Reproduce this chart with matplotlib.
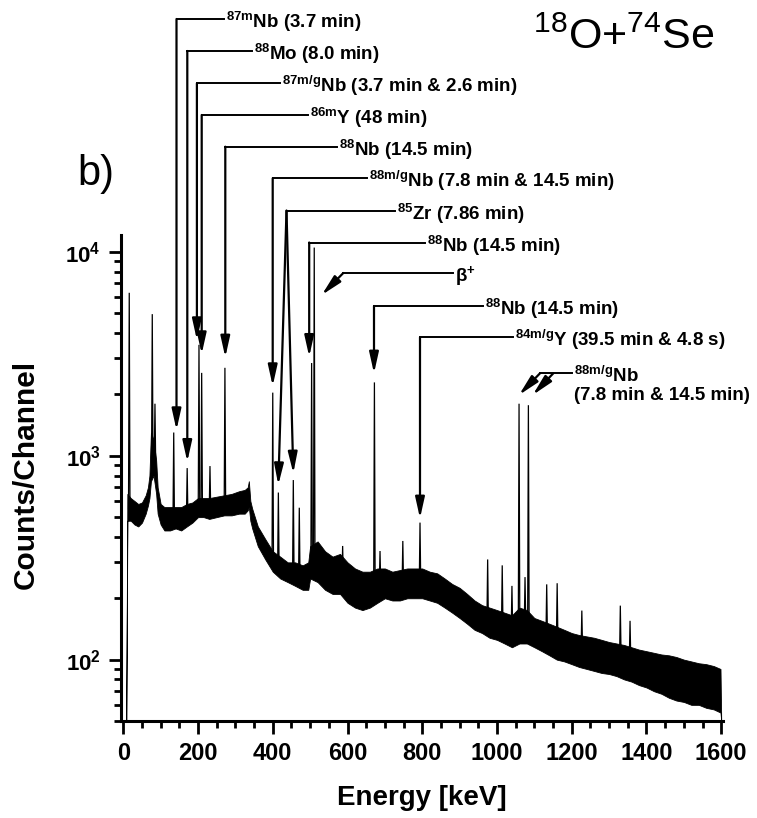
import numpy as np
import matplotlib
matplotlib.use("Agg")
import matplotlib.pyplot as plt
from matplotlib.ticker import MultipleLocator, LogLocator, FuncFormatter, NullFormatter
from matplotlib.transforms import Affine2D

plt.rcParams['font.family'] = ['Liberation Sans', 'DejaVu Sans']
plt.rcParams['font.weight'] = 'bold'
plt.rcParams['mathtext.fontset'] = 'custom'
plt.rcParams['mathtext.rm'] = 'Liberation Sans:weight=normal'
plt.rcParams['mathtext.bf'] = 'Liberation Sans:weight=bold'
plt.rcParams['mathtext.it'] = 'Liberation Sans:italic'

# ---------------- data ----------------
# continuum: energy [keV], lower and upper edge of the noisy band [counts/channel]
band_energy = [8, 11, 20, 30, 40, 50, 60, 66, 70, 74, 81, 88, 92, 100, 110, 125, 140, 155,
               170, 185, 200, 215, 230, 250, 270, 290, 310, 325, 333, 336, 340, 345, 360,
               380, 400, 420, 440, 460, 480, 495, 500, 520, 540, 560, 580, 600, 620, 640,
               660, 680, 700, 720, 740, 760, 780, 800, 820, 840, 860, 880, 900, 920, 940,
               960, 980, 1000, 1020, 1040, 1060, 1080, 1100, 1120, 1140, 1160, 1180, 1200,
               1220, 1240, 1260, 1280, 1300, 1320, 1340, 1360, 1380, 1400, 1420, 1440, 1460,
               1480, 1500, 1520, 1540, 1560, 1580, 1598, 1600]
band_low = [50, 480, 480, 460, 450, 470, 520, 570, 620, 750, 800, 650, 520, 460, 430, 430, 440, 430,
            450, 470, 500, 500, 490, 500, 510, 510, 520, 520, 540, 560, 480, 440, 360,
            310, 270, 250, 240, 230, 220, 220, 250, 240, 220, 210, 210, 190, 180, 175,
            180, 190, 200, 195, 195, 200, 200, 200, 195, 190, 180, 170, 160, 150, 140,
            135, 128, 125, 120, 115, 120, 120, 115, 110, 105, 100, 98, 95,
            92, 90, 88, 86, 85, 83, 80, 78, 75, 73, 70, 68, 65,
            63, 62, 60, 60, 58, 57, 55, 50]
band_high = [55, 650, 620, 600, 580, 590, 640, 700, 800, 1300, 1200, 950, 700, 580, 560, 560, 560, 560,
             580, 590, 620, 620, 620, 630, 640, 650, 670, 680, 700, 750, 600, 550, 450,
             390, 340, 320, 300, 300, 290, 300, 360, 380, 340, 320, 330, 300, 280, 270,
             270, 280, 280, 270, 275, 280, 280, 280, 270, 265, 250, 235, 225, 210, 195,
             185, 180, 175, 170, 165, 180, 175, 160, 155, 150, 145, 140, 135,
             132, 130, 128, 125, 122, 120, 118, 115, 112, 110, 108, 106, 105,
             103, 100, 98, 96, 95, 93, 90, 50]

# gamma lines: energy [keV], peak height and foot level [counts/channel]
peak_energy = [16, 77.6, 84.8, 135, 171, 202.6, 209.8, 232, 272, 400, 415, 455, 471, 504, 511,
               587, 672, 687, 748, 794, 975, 1014, 1040, 1059, 1075, 1084, 1133, 1161, 1227,
               1330, 1356]
peak_height = [6300, 4950, 1800, 1300, 870, 3500, 2550, 890, 2700, 2040, 660, 760, 556, 2850, 10500,
               361, 2290, 341, 382, 470, 310, 290, 230, 1800, 254, 1770, 234, 237, 174,
               184, 155]
peak_base = [550, 900, 900, 480, 500, 560, 560, 540, 560, 300, 280, 260, 250, 300, 300,
             240, 220, 230, 230, 235, 150, 145, 140, 150, 150, 150, 130, 125, 112,
             105, 100]

xtick_values = [0, 200, 400, 600, 800, 1000, 1200, 1400, 1600]

# ---------------- figure ----------------
W, H = 757, 818
fig = plt.figure(figsize=(W / 100, H / 100), dpi=100)
ax = fig.add_axes([121.4 / W, 97 / H, 601.7 / W, 486 / H])
ax.set_yscale('log')
ax.set_xlim(-5, 1605)
ax.set_ylim(50, 12100)

ax.fill_between(band_energy, band_low, band_high, color='k', lw=0.6, edgecolor='k')
for e, h, b in zip(peak_energy, peak_height, peak_base):
    ax.plot([e - 2, e, e + 2], [b, h, b], color='k', lw=0.9, solid_joinstyle='miter')

# axes styling
for s in ['top', 'right']:
    ax.spines[s].set_visible(False)
for s in ['left', 'bottom']:
    ax.spines[s].set_linewidth(2.2)

ax.set_xticks(xtick_values)
ax.xaxis.set_minor_locator(MultipleLocator(50))
ax.yaxis.set_major_locator(LogLocator(base=10, numticks=10))
ax.yaxis.set_minor_locator(LogLocator(base=10, subs=range(2, 10), numticks=20))
ax.yaxis.set_minor_formatter(NullFormatter())
ax.yaxis.set_major_formatter(FuncFormatter(lambda v, p: r'$\mathbf{10^{%d}}$' % int(round(np.log10(v)))))
ax.tick_params(axis='x', which='major', direction='out', length=9, width=2, labelsize=17, pad=6)
ax.tick_params(axis='x', which='minor', direction='out', length=5, width=2)
ax.tick_params(axis='y', which='major', direction='out', length=9, width=2, labelsize=16, pad=6)
ax.tick_params(axis='y', which='minor', direction='out', length=5, width=2)

# pixel transform (origin top-left) for layout
pix = Affine2D().scale(1 / W, -1 / H).translate(0, 1) + fig.transFigure

fig.text(422, 798, 'Energy [keV]', transform=pix, ha='center', va='center', fontsize=20)
fig.text(26, 474, 'Counts/Channel', transform=pix, ha='center', va='center', fontsize=21.5, rotation=90)
fig.text(114, 174, 'b)', transform=pix, ha='right', va='center', fontsize=30, fontweight='normal')
fig.text(533, 38, r'$^{18}$O+$^{74}$Se', transform=pix, ha='left', va='center', fontsize=31,
         fontweight='normal')

# annotations
arrow_kw = dict(arrowstyle='-|>,head_length=0.9,head_width=0.2', lw=1.6, color='k',
                shrinkA=0, shrinkB=0, mutation_scale=14)
txt_size = 13.5


def arrow(x0, y0, x1, y1):
    fig.add_artist(matplotlib.patches.FancyArrowPatch((x0, y0), (x1, y1), transform=pix, **arrow_kw))


def hline(x0, x1, y):
    fig.add_artist(matplotlib.lines.Line2D([x0, x1], [y, y], transform=pix, color='k', lw=1.4))


def label(x, y, s):
    fig.text(x + 2, y + 3, s, transform=pix, ha='left', va='center', fontsize=txt_size)


elbows = [
    (r'$^{\mathbf{87m}}$Nb (3.7 min)', 19, 176.5, 224, 430),
    (r'$^{\mathbf{88}}$Mo (8.0 min)', 51, 187.3, 251.7, 461.7),
    (r'$^{\mathbf{87m/g}}$Nb (3.7 min & 2.6 min)', 83.3, 196.9, 280, 340),
    (r'$^{\mathbf{86m}}$Y (48 min)', 115, 201.7, 308.3, 354),
    (r'$^{\mathbf{88}}$Nb (14.5 min)', 146.7, 225.3, 337.3, 357.3),
    (r'$^{\mathbf{88m/g}}$Nb (7.8 min & 14.5 min)', 178.3, 272.7, 366.7, 386),
    (r'$^{\mathbf{88}}$Nb (14.5 min)', 242.5, 309.2, 425, 356.7),
    (r'$^{\mathbf{88}}$Nb (14.5 min)', 306, 374, 483.3, 373.3),
    (r'$^{\mathbf{84m/g}}$Y (39.5 min & 4.8 s)', 337.3, 420, 513.3, 518.3),
]
for s, yh, xv, xe, ytip in elbows:
    hline(xv, xe, yh)
    arrow(xv, yh, xv, ytip)
    label(xe, yh, s)

# 85Zr: two diverging arrows
hline(286.5, 395, 210.7)
arrow(286.5, 210.7, 278.3, 485)
arrow(286.5, 210.7, 293.3, 473.3)
label(395, 210.7, r'$^{\mathbf{85}}$Zr (7.86 min)')

# beta+
hline(343.3, 453.3, 273)
arrow(343.3, 273, 321.7, 295)
label(453.3, 273, r'β$^{\mathbf{+}}$')

# 88m/g Nb doublet
hline(540, 571.7, 373.3)
arrow(540, 373.3, 519, 395)
arrow(553.3, 373.3, 532.7, 395)
label(571.7, 373.3, r'$^{\mathbf{88m/g}}$Nb')
fig.text(574, 396, '(7.8 min & 14.5 min)', transform=pix, ha='left', va='center', fontsize=txt_size)

fig.savefig('out.png', dpi=100)
